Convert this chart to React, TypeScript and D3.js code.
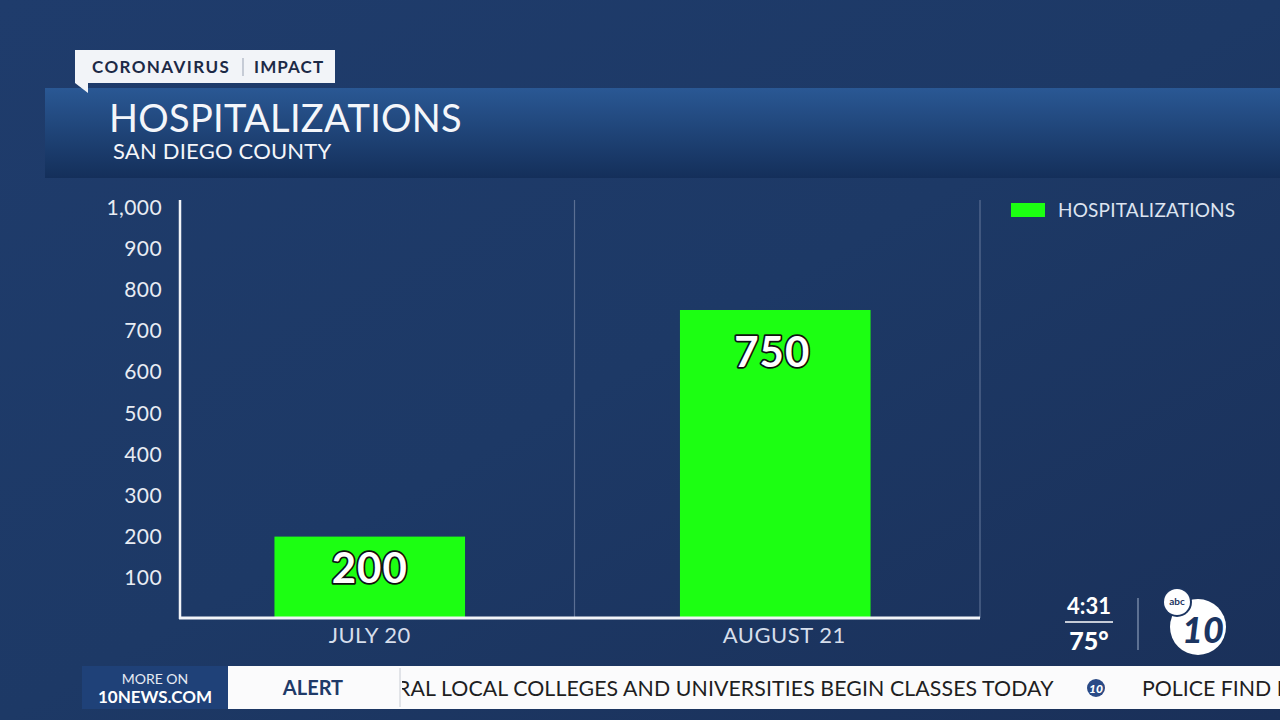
import React, { useRef, useEffect } from "react";
import { select, scaleLinear, scaleBand, range as d3range, format } from "d3";

const categories = ["JULY 20", "AUGUST 21"];
const hospitalizations = [200, 750];
const yTicks = [100, 200, 300, 400, 500, 600, 700, 800, 900, 1000];
const seriesName = "HOSPITALIZATIONS";
const title = "HOSPITALIZATIONS";
const subtitle = "SAN DIEGO COUNTY";
const tagLeft = "CORONAVIRUS";
const tagRight = "IMPACT";
const tickerText = "RAL LOCAL COLLEGES AND UNIVERSITIES BEGIN CLASSES TODAY";
const tickerNext = "POLICE FIND M";

const W = 1280;
const H = 720;
const FONT = "Lato, 'Open Sans', sans-serif";
const GREEN = "#1cff12";

const App: React.FC = () => {
  const svgRef = useRef<SVGSVGElement>(null);

  useEffect(() => {
    const svg = select(svgRef.current);
    svg.selectAll("*").remove();

    // fondo
    const defs = svg.append("defs");
    const bg = defs
      .append("linearGradient")
      .attr("id", "bg")
      .attr("x1", 0)
      .attr("y1", 0)
      .attr("x2", 1)
      .attr("y2", 1);
    bg.append("stop").attr("offset", "0%").attr("stop-color", "#1f3c6c");
    bg.append("stop").attr("offset", "50%").attr("stop-color", "#1d3966");
    bg.append("stop").attr("offset", "100%").attr("stop-color", "#1a3059");
    const hdr = defs
      .append("linearGradient")
      .attr("id", "hdr")
      .attr("x1", 0)
      .attr("y1", 0)
      .attr("x2", 0)
      .attr("y2", 1);
    hdr.append("stop").attr("offset", "0%").attr("stop-color", "#2a5894");
    hdr.append("stop").attr("offset", "100%").attr("stop-color", "#142f5a");
    const clip = defs.append("clipPath").attr("id", "tick");
    clip.append("rect").attr("x", 402).attr("y", 666).attr("width", 878).attr("height", 43);

    svg.append("rect").attr("width", W).attr("height", H).attr("fill", "url(#bg)");

    // cabecera
    svg
      .append("rect")
      .attr("x", 45)
      .attr("y", 88)
      .attr("width", W - 45)
      .attr("height", 90)
      .attr("fill", "url(#hdr)");
    svg
      .append("path")
      .attr("d", "M75,50 H335 V83 H88 L88,93 L75,83 Z")
      .attr("fill", "#f2f4f8");
    svg
      .append("text")
      .attr("x", 92)
      .attr("y", 73)
      .attr("font-family", FONT)
      .attr("font-weight", 700)
      .attr("font-size", 17)
      .attr("letter-spacing", 1.4)
      .attr("fill", "#1c2946")
      .text(tagLeft);
    svg
      .append("line")
      .attr("x1", 243)
      .attr("x2", 243)
      .attr("y1", 58)
      .attr("y2", 76)
      .attr("stroke", "#9aa3b4");
    svg
      .append("text")
      .attr("x", 254)
      .attr("y", 73)
      .attr("font-family", FONT)
      .attr("font-weight", 700)
      .attr("font-size", 17)
      .attr("letter-spacing", 1.1)
      .attr("fill", "#1c2946")
      .text(tagRight);
    svg
      .append("text")
      .attr("x", 109)
      .attr("y", 132)
      .attr("font-family", FONT)
      .attr("font-size", 38)
      .attr("letter-spacing", 0.3)
      .attr("fill", "#f4f6fa")
      .text(title);
    svg
      .append("text")
      .attr("x", 113)
      .attr("y", 159)
      .attr("font-family", FONT)
      .attr("font-size", 22)
      .attr("letter-spacing", 0.2)
      .attr("fill", "#f4f6fa")
      .text(subtitle);

    // escalas
    const y = scaleLinear().domain([0, 1000]).range([619, 207]);
    const x = scaleBand<string>()
      .domain(categories)
      .range([167, 978])
      .paddingInner(0.53)
      .paddingOuter(0.265);
    const step = x.step();

    const g = svg.append("g");

    // divisores
    d3range(1, categories.length + 1).forEach((i) => {
      const xx = 167 + step * i + 2;
      g.append("line")
        .attr("x1", xx)
        .attr("x2", xx)
        .attr("y1", 200)
        .attr("y2", 618)
        .attr("stroke", "#5b6f93")
        .attr("stroke-width", 1.2);
    });

    // barras
    g.selectAll("rect.bar")
      .data(hospitalizations)
      .join("rect")
      .attr("class", "bar")
      .attr("x", (_, i) => x(categories[i])!)
      .attr("y", (d) => y(d))
      .attr("width", x.bandwidth())
      .attr("height", (d) => y(0) - y(d))
      .attr("fill", GREEN);

    // ejes
    g.append("line")
      .attr("x1", 180)
      .attr("x2", 180)
      .attr("y1", 200)
      .attr("y2", 619)
      .attr("stroke", "#f2f4f8")
      .attr("stroke-width", 2.5);
    g.append("line")
      .attr("x1", 179)
      .attr("x2", 980)
      .attr("y1", 618)
      .attr("y2", 618)
      .attr("stroke", "#f2f4f8")
      .attr("stroke-width", 3);

    const fmt = format(",");
    g.selectAll("text.ytick")
      .data(yTicks)
      .join("text")
      .attr("class", "ytick")
      .attr("x", 162)
      .attr("y", (d) => y(d) + 7.5)
      .attr("text-anchor", "end")
      .attr("font-family", FONT)
      .attr("font-size", 21)
      .attr("letter-spacing", 0.4)
      .attr("fill", "#e8ecf3")
      .text((d) => fmt(d));

    // etiquetas de categoría
    g.selectAll("text.xlab")
      .data(categories)
      .join("text")
      .attr("class", "xlab")
      .attr("x", (d, i) => x(d)! + x.bandwidth() / 2 + (i === 1 ? 9 : 0))
      .attr("y", 643)
      .attr("text-anchor", "middle")
      .attr("font-family", FONT)
      .attr("font-size", 22)
      .attr("letter-spacing", 0.5)
      .attr("fill", "#d6deeb")
      .text((d) => d);

    // valores
    g.selectAll("text.val")
      .data(hospitalizations)
      .join("text")
      .attr("class", "val")
      .attr("x", (_, i) => x(categories[i])! + x.bandwidth() / 2 - (i === 1 ? 3 : 0))
      .attr("y", (d) => y(d) + 42 + (y(0) - y(d)) * 0.05)
      .attr("text-anchor", "middle")
      .attr("font-family", FONT)
      .attr("font-weight", 700)
      .attr("font-size", 42)
      .attr("letter-spacing", 1)
      .attr("fill", "#ffffff")
      .attr("stroke", "#101010")
      .attr("stroke-width", 3.5)
      .attr("stroke-linejoin", "round")
      .attr("paint-order", "stroke")
      .text((d) => d);

    // leyenda
    svg
      .append("rect")
      .attr("x", 1011)
      .attr("y", 203)
      .attr("width", 34)
      .attr("height", 14)
      .attr("fill", GREEN);
    svg
      .append("text")
      .attr("x", 1058)
      .attr("y", 217)
      .attr("font-family", FONT)
      .attr("font-size", 19)
      .attr("letter-spacing", 0.2)
      .attr("fill", "#dde4f0")
      .text(seriesName);

    // hora y logo
    svg
      .append("text")
      .attr("x", 1089)
      .attr("y", 614)
      .attr("text-anchor", "middle")
      .attr("font-family", FONT)
      .attr("font-weight", 700)
      .attr("font-size", 22)
      .attr("fill", "#fff")
      .text("4:31");
    svg
      .append("line")
      .attr("x1", 1065)
      .attr("x2", 1113)
      .attr("y1", 622)
      .attr("y2", 622)
      .attr("stroke", "#fff")
      .attr("stroke-width", 1.5);
    svg
      .append("text")
      .attr("x", 1089)
      .attr("y", 650)
      .attr("text-anchor", "middle")
      .attr("font-family", FONT)
      .attr("font-weight", 900)
      .attr("font-size", 25)
      .attr("fill", "#fff")
      .text("75°");
    svg
      .append("line")
      .attr("x1", 1138)
      .attr("x2", 1138)
      .attr("y1", 598)
      .attr("y2", 650)
      .attr("stroke", "#8a9bb8")
      .attr("stroke-width", 1.2);
    svg.append("circle").attr("cx", 1198).attr("cy", 627).attr("r", 28).attr("fill", "#fff");
    svg
      .append("text")
      .attr("x", 1203)
      .attr("y", 643)
      .attr("text-anchor", "middle")
      .attr("font-family", FONT)
      .attr("font-weight", 900)
      .attr("font-style", "italic")
      .attr("font-size", 36)
      .attr("fill", "#1c3561")
      .text("10");
    svg.append("circle").attr("cx", 1177).attr("cy", 602).attr("r", 15).attr("fill", "#1c3561");
    svg.append("circle").attr("cx", 1177).attr("cy", 602).attr("r", 13).attr("fill", "#fff");
    svg
      .append("text")
      .attr("x", 1177)
      .attr("y", 605)
      .attr("text-anchor", "middle")
      .attr("font-family", FONT)
      .attr("font-weight", 700)
      .attr("font-size", 10)
      .attr("fill", "#1c3561")
      .text("abc");

    // barra inferior
    svg
      .append("rect")
      .attr("x", 82)
      .attr("y", 666)
      .attr("width", W - 82)
      .attr("height", 43)
      .attr("fill", "#fbfbfc");
    svg
      .append("rect")
      .attr("x", 82)
      .attr("y", 666)
      .attr("width", 146)
      .attr("height", 43)
      .attr("fill", "#1f4178");
    svg
      .append("text")
      .attr("x", 155)
      .attr("y", 684)
      .attr("text-anchor", "middle")
      .attr("font-family", FONT)
      .attr("font-size", 14)
      .attr("fill", "#e6ebf4")
      .text("MORE ON");
    svg
      .append("text")
      .attr("x", 155)
      .attr("y", 703)
      .attr("text-anchor", "middle")
      .attr("font-family", FONT)
      .attr("font-weight", 700)
      .attr("font-size", 17)
      .attr("fill", "#ffffff")
      .text("10NEWS.COM");
    svg
      .append("text")
      .attr("x", 313)
      .attr("y", 695)
      .attr("text-anchor", "middle")
      .attr("font-family", FONT)
      .attr("font-weight", 700)
      .attr("font-size", 20)
      .attr("fill", "#1f3a68")
      .text("ALERT");
    svg
      .append("line")
      .attr("x1", 400)
      .attr("x2", 400)
      .attr("y1", 668)
      .attr("y2", 707)
      .attr("stroke", "#c8ccd4");
    const tk = svg.append("g").attr("clip-path", "url(#tick)");
    tk.append("text")
      .attr("x", 397)
      .attr("y", 696)
      .attr("font-family", FONT)
      .attr("font-size", 21.3)
      .attr("letter-spacing", 0.1)
      .attr("fill", "#1e1e22")
      .text(tickerText);
    tk.append("circle").attr("cx", 1096).attr("cy", 688).attr("r", 9).attr("fill", "#2a4a86");
    tk.append("text")
      .attr("x", 1096)
      .attr("y", 693)
      .attr("text-anchor", "middle")
      .attr("font-family", FONT)
      .attr("font-weight", 900)
      .attr("font-style", "italic")
      .attr("font-size", 12)
      .attr("fill", "#fff")
      .text("10");
    tk.append("text")
      .attr("x", 1142)
      .attr("y", 696)
      .attr("font-family", FONT)
      .attr("font-size", 21.3)
      .attr("fill", "#1e1e22")
      .text(tickerNext);
  }, []);

  return (
    <svg
      ref={svgRef}
      width={W}
      height={H}
      viewBox={`0 0 ${W} ${H}`}
      style={{ position: "absolute", left: 0, top: 0, display: "block" }}
    />
  );
};

export default App;
